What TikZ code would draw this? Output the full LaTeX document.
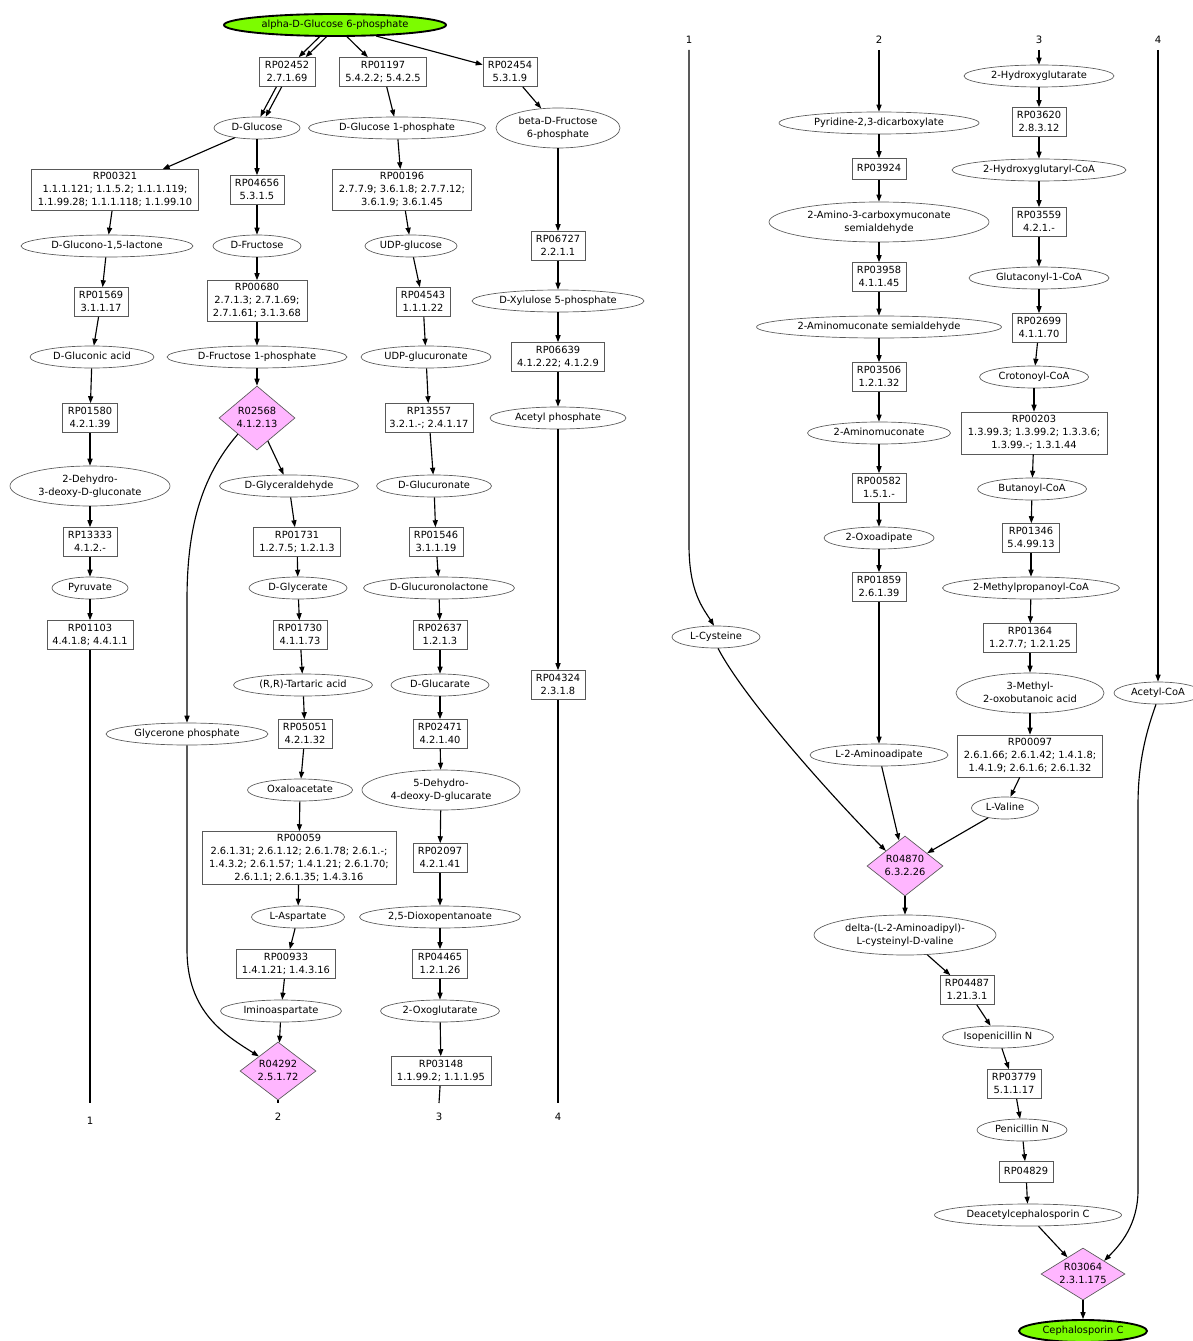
\documentclass[tikz,border=0pt]{standalone}
\usepackage{fontspec}
\setmainfont{DejaVu Sans}
\usetikzlibrary{shapes.geometric,arrows.meta}
\definecolor{pinkfill}{RGB}{255,182,255}
\definecolor{termgreen}{RGB}{124,252,0}
\newcommand{\ctext}[1]{\makebox[0pt]{\begin{tabular}{@{}c@{}}#1\end{tabular}}}
\begin{document}
\begin{tikzpicture}[x=0.75pt,y=-0.75pt,
  every node/.style={font=\fontsize{7.4}{9.75}\selectfont, inner sep=0pt},
  rbox/.style={draw=black!65, line width=0.5pt, rectangle},
  met/.style={draw=black!65, line width=0.5pt, ellipse},
  rxn/.style={draw=black!65, line width=0.5pt, diamond, fill=pinkfill},
  endpt/.style={draw=black, line width=1.4pt, ellipse, fill=termgreen},
  sz/.style 2 args={minimum width=#1*0.75pt, minimum height=#2*0.75pt},
  arr/.style={draw, line width=0.85pt, -{Triangle[length=5.2pt,width=3.8pt]}},
  plain/.style={draw, line width=0.85pt},
  lbl/.style={font=\fontsize{7.6}{9}\selectfont}]
\useasboundingbox (0,0) rectangle (1192,1341);

% ---------------- left panel ----------------
\node[endpt, sz={222}{22}] (g6p) at (335,25) {\ctext{alpha-D-Glucose 6-phosphate}};
\node[rbox, sz={56}{29}] (rp02452) at (287,72) {\ctext{RP02452\\2.7.1.69}};
\node[rbox, sz={87}{29}] (rp01197) at (383,72) {\ctext{RP01197\\5.4.2.2; 5.4.2.5}};
\node[rbox, sz={54}{29}] (rp02454) at (510,72) {\ctext{RP02454\\5.3.1.9}};
\node[met, sz={86}{22}] (dglc) at (257,128) {\ctext{D-Glucose}};
\node[met, sz={177}{22}] (dg1p) at (397,128) {\ctext{D-Glucose 1-phosphate}};
\node[met, sz={124}{40}] (bf6p) at (558,128) {\ctext{beta-D-Fructose\\6-phosphate}};
\node[rbox, sz={167}{41}] (rp00321) at (115,190) {\ctext{RP00321\\1.1.1.121; 1.1.5.2; 1.1.1.119;\\1.1.99.28; 1.1.1.118; 1.1.99.10}};
\node[rbox, sz={54}{29}] (rp04656) at (257,190) {\ctext{RP04656\\5.3.1.5}};
\node[rbox, sz={139}{41}] (rp00196) at (402,190) {\ctext{RP00196\\2.7.7.9; 3.6.1.8; 2.7.7.12;\\3.6.1.9; 3.6.1.45}};
\node[met, sz={172}{22}] (dglac) at (107,246) {\ctext{D-Glucono-1,5-lactone}};
\node[met, sz={88}{22}] (dfru) at (257,246) {\ctext{D-Fructose}};
\node[met, sz={92}{22}] (udpg) at (411,246) {\ctext{UDP-glucose}};
\node[rbox, sz={54}{29}] (rp06727) at (558,246) {\ctext{RP06727\\2.2.1.1}};
\node[rbox, sz={54}{29}] (rp01569) at (101,302) {\ctext{RP01569\\3.1.1.17}};
\node[rbox, sz={100}{41}] (rp00680) at (257,301) {\ctext{RP00680\\2.7.1.3; 2.7.1.69;\\2.7.1.61; 3.1.3.68}};
\node[rbox, sz={54}{29}] (rp04543) at (423,302) {\ctext{RP04543\\1.1.1.22}};
\node[met, sz={172}{22}] (dx5p) at (558,301) {\ctext{D-Xylulose 5-phosphate}};
\node[met, sz={124}{22}] (dgla) at (92,357) {\ctext{D-Gluconic acid}};
\node[met, sz={180}{22}] (df1p) at (257,357) {\ctext{D-Fructose 1-phosphate}};
\node[met, sz={130}{22}] (udpgu) at (426,357) {\ctext{UDP-glucuronate}};
\node[rbox, sz={93}{29}] (rp06639) at (558,357) {\ctext{RP06639\\4.1.2.22; 4.1.2.9}};
\node[rxn, sz={76}{64}] (r02568) at (257,418) {\ctext{R02568\\4.1.2.13}};
\node[rbox, sz={55}{29}] (rp01580) at (90,418) {\ctext{RP01580\\4.2.1.39}};
\node[rbox, sz={88}{29}] (rp13557) at (429,418) {\ctext{RP13557\\3.2.1.-; 2.4.1.17}};
\node[met, sz={136}{22}] (acp) at (558,418) {\ctext{Acetyl phosphate}};
\node[met, sz={160}{40}] (ddg) at (90,486) {\ctext{2-Dehydro-\\3-deoxy-D-gluconate}};
\node[met, sz={139}{22}] (dgad) at (289,486) {\ctext{D-Glyceraldehyde}};
\node[met, sz={115}{22}] (dgu) at (434,486) {\ctext{D-Glucuronate}};
\node[rbox, sz={54}{29}] (rp13333) at (90,542) {\ctext{RP13333\\4.1.2.-}};
\node[rbox, sz={87}{29}] (rp01731) at (297,542) {\ctext{RP01731\\1.2.7.5; 1.2.1.3}};
\node[rbox, sz={54}{29}] (rp01546) at (436,542) {\ctext{RP01546\\3.1.1.19}};
\node[met, sz={76}{22}] (pyr) at (90,588) {\ctext{Pyruvate}};
\node[met, sz={98}{22}] (dgly) at (298,588) {\ctext{D-Glycerate}};
\node[met, sz={151}{22}] (dgul) at (439,588) {\ctext{D-Glucuronolactone}};
\node[rbox, sz={86}{29}] (rp01103) at (90,635) {\ctext{RP01103\\4.4.1.8; 4.4.1.1}};
\node[rbox, sz={54}{29}] (rp01730) at (300,635) {\ctext{RP01730\\4.1.1.73}};
\node[rbox, sz={54}{29}] (rp02637) at (440,635) {\ctext{RP02637\\1.2.1.3}};
\node[met, sz={139}{22}] (tart) at (303,685) {\ctext{(R,R)-Tartaric acid}};
\node[met, sz={98}{22}] (dgar) at (440,685) {\ctext{D-Glucarate}};
\node[rbox, sz={54}{29}] (rp04324) at (558,685) {\ctext{RP04324\\2.3.1.8}};
\node[met, sz={162}{22}] (glyp) at (187,734) {\ctext{Glycerone phosphate}};
\node[rbox, sz={54}{29}] (rp05051) at (305,734) {\ctext{RP05051\\4.2.1.32}};
\node[rbox, sz={54}{29}] (rp02471) at (440,734) {\ctext{RP02471\\4.2.1.40}};
\node[met, sz={105}{22}] (oxa) at (300,790) {\ctext{Oxaloacetate}};
\node[met, sz={158}{40}] (ddgr) at (441,790) {\ctext{5-Dehydro-\\4-deoxy-D-glucarate}};
\node[rbox, sz={194}{53}] (rp00059) at (299,858) {\ctext{RP00059\\2.6.1.31; 2.6.1.12; 2.6.1.78; 2.6.1.-;\\1.4.3.2; 2.6.1.57; 1.4.1.21; 2.6.1.70;\\2.6.1.1; 2.6.1.35; 1.4.3.16}};
\node[rbox, sz={54}{29}] (rp02097) at (440,858) {\ctext{RP02097\\4.2.1.41}};
\node[met, sz={93}{22}] (lasp) at (298,917) {\ctext{L-Aspartate}};
\node[met, sz={161}{22}] (dop) at (440,917) {\ctext{2,5-Dioxopentanoate}};
\node[rbox, sz={99}{29}] (rp00933) at (286,964) {\ctext{RP00933\\1.4.1.21; 1.4.3.16}};
\node[rbox, sz={55}{29}] (rp04465) at (440,964) {\ctext{RP04465\\1.2.1.26}};
\node[met, sz={121}{22}] (imi) at (281,1011) {\ctext{Iminoaspartate}};
\node[met, sz={119}{22}] (oxg) at (440,1011) {\ctext{2-Oxoglutarate}};
\node[rxn, sz={76}{58}] (r04292) at (278,1071) {\ctext{R04292\\2.5.1.72}};
\node[rbox, sz={100}{29}] (rp03148) at (441,1071) {\ctext{RP03148\\1.1.99.2; 1.1.1.95}};

% continuation markers at the foot of the left panel
\node[lbl] (bl1) at (90,1121) {1};
\node[lbl] (bl2) at (278,1117) {2};
\node[lbl] (bl3) at (439,1117) {3};
\node[lbl] (bl4) at (558,1117) {4};
\coordinate (b1) at (90,1103);
\coordinate (b2) at (278,1103);
\coordinate (b3) at (439,1103);
\coordinate (b4) at (558,1103);

% left panel connectors
\draw[arr, transform canvas={xshift=-2.6pt}] (g6p) -- (rp02452);
\draw[arr, transform canvas={xshift=2.6pt}] (g6p) -- (rp02452);
\draw[arr, transform canvas={xshift=-2pt}] (rp02452) -- (dglc);
\draw[arr, transform canvas={xshift=2pt}] (rp02452) -- (dglc);
\draw[arr] (g6p) -- (rp01197);
\draw[arr] (g6p) -- (rp02454);
\draw[arr] (rp01197) -- (dg1p);
\draw[arr] (rp02454) -- (bf6p);
\draw[arr] (dglc) -- (rp00321);
\draw[arr] (dglc) -- (rp04656);
\draw[arr] (dg1p) -- (rp00196);
\draw[arr] (bf6p) -- (rp06727);
\draw[arr] (rp00321) -- (dglac);
\draw[arr] (rp04656) -- (dfru);
\draw[arr] (rp00196) -- (udpg);
\draw[arr] (rp06727) -- (dx5p);
\draw[arr] (dglac) -- (rp01569);
\draw[arr] (dfru) -- (rp00680);
\draw[arr] (udpg) -- (rp04543);
\draw[arr] (dx5p) -- (rp06639);
\draw[arr] (rp01569) -- (dgla);
\draw[arr] (rp00680) -- (df1p);
\draw[arr] (rp04543) -- (udpgu);
\draw[arr] (rp06639) -- (acp);
\draw[arr] (dgla) -- (rp01580);
\draw[arr] (df1p) -- (r02568);
\draw[arr] (udpgu) -- (rp13557);
\draw[arr] (acp) -- (rp04324);
\draw[arr] (rp01580) -- (ddg);
\draw[arr] (r02568) -- (dgad);
\draw[arr] (r02568.south west) .. controls (200,478) and (187,530) .. (187,600) -- (glyp.north);
\draw[arr] (rp13557) -- (dgu);
\draw[arr] (ddg) -- (rp13333);
\draw[arr] (dgad) -- (rp01731);
\draw[arr] (dgu) -- (rp01546);
\draw[arr] (rp13333) -- (pyr);
\draw[arr] (rp01731) -- (dgly);
\draw[arr] (rp01546) -- (dgul);
\draw[arr] (pyr) -- (rp01103);
\draw[arr] (dgly) -- (rp01730);
\draw[arr] (dgul) -- (rp02637);
\draw[arr] (rp01730) -- (tart);
\draw[arr] (rp02637) -- (dgar);
\draw[arr] (tart) -- (rp05051);
\draw[arr] (dgar) -- (rp02471);
\draw[arr] (rp05051) -- (oxa);
\draw[arr] (rp02471) -- (ddgr);
\draw[arr] (oxa) -- (rp00059);
\draw[arr] (ddgr) -- (rp02097);
\draw[arr] (rp00059) -- (lasp);
\draw[arr] (rp02097) -- (dop);
\draw[arr] (lasp) -- (rp00933);
\draw[arr] (dop) -- (rp04465);
\draw[arr] (rp00933) -- (imi);
\draw[arr] (rp04465) -- (oxg);
\draw[arr] (imi) -- (r04292);
\draw[arr] (oxg) -- (rp03148);
\draw[arr] (glyp.south) -- (187,950) .. controls (187,1012) and (225,1035) .. (r04292.north west);
\draw[plain] (rp01103) -- (b1);
\draw[plain] (r04292) -- (b2);
\draw[plain] (rp03148) -- (b3);
\draw[plain] (rp04324) -- (b4);

% ---------------- right panel ----------------
\node[lbl] (tl1) at (689,40) {1};
\node[lbl] (tl2) at (879,40) {2};
\node[lbl] (tl3) at (1039,40) {3};
\node[lbl] (tl4) at (1158,40) {4};
\coordinate (t1) at (689,50);
\coordinate (t2) at (879,50);
\coordinate (t3) at (1039,50);
\coordinate (t4) at (1158,50);

\node[met, sz={200}{22}] (pyd) at (879,123) {\ctext{Pyridine-2,3-dicarboxylate}};
\node[rbox, sz={54}{21}] (rp03924) at (879,169) {\ctext{RP03924}};
\node[met, sz={220}{40}] (acms) at (879,222) {\ctext{2-Amino-3-carboxymuconate\\semialdehyde}};
\node[rbox, sz={54}{29}] (rp03958) at (879,277) {\ctext{RP03958\\4.1.1.45}};
\node[met, sz={245}{22}] (ams) at (879,327) {\ctext{2-Aminomuconate semialdehyde}};
\node[rbox, sz={54}{29}] (rp03506) at (879,377) {\ctext{RP03506\\1.2.1.32}};
\node[met, sz={143}{22}] (amu) at (879,433) {\ctext{2-Aminomuconate}};
\node[rbox, sz={54}{29}] (rp00582) at (879,488) {\ctext{RP00582\\1.5.1.-}};
\node[met, sz={110}{22}] (oxad) at (879,538) {\ctext{2-Oxoadipate}};
\node[rbox, sz={54}{29}] (rp01859) at (879,587) {\ctext{RP01859\\2.6.1.39}};
\node[met, sz={138}{22}] (laa) at (879,755) {\ctext{L-2-Aminoadipate}};
\node[met, sz={88}{22}] (lcys) at (716,637) {\ctext{L-Cysteine}};
\node[rxn, sz={76}{60}] (r04870) at (905,866) {\ctext{R04870\\6.3.2.26}};
\node[met, sz={182}{40}] (acv) at (905,935) {\ctext{delta-(L-2-Aminoadipyl)-\\L-cysteinyl-D-valine}};
\node[rbox, sz={54}{29}] (rp04487) at (967,990) {\ctext{RP04487\\1.21.3.1}};
\node[met, sz={111}{22}] (ipn) at (998,1037) {\ctext{Isopenicillin N}};
\node[rbox, sz={54}{29}] (rp03779) at (1014,1084) {\ctext{RP03779\\5.1.1.17}};
\node[met, sz={90}{22}] (pen) at (1022,1130) {\ctext{Penicillin N}};
\node[rbox, sz={54}{21}] (rp04829) at (1026,1172) {\ctext{RP04829}};
\node[met, sz={187}{22}] (dac) at (1028,1215) {\ctext{Deacetylcephalosporin C}};
\node[rxn, sz={84}{52}] (r03064) at (1083,1274) {\ctext{R03064\\2.3.1.175}};
\node[endpt, sz={128}{22}] (cephc) at (1083,1331) {\ctext{Cephalosporin C}};

\node[met, sz={150}{22}] (hgl) at (1039,76) {\ctext{2-Hydroxyglutarate}};
\node[rbox, sz={54}{29}] (rp03620) at (1039,122) {\ctext{RP03620\\2.8.3.12}};
\node[met, sz={174}{22}] (hgc) at (1039,170) {\ctext{2-Hydroxyglutaryl-CoA}};
\node[rbox, sz={54}{29}] (rp03559) at (1039,222) {\ctext{RP03559\\4.2.1.-}};
\node[met, sz={140}{22}] (glc1) at (1039,278) {\ctext{Glutaconyl-1-CoA}};
\node[rbox, sz={54}{29}] (rp02699) at (1039,328) {\ctext{RP02699\\4.1.1.70}};
\node[met, sz={109}{22}] (crot) at (1034,377) {\ctext{Crotonoyl-CoA}};
\node[rbox, sz={146}{42}] (rp00203) at (1034,433) {\ctext{RP00203\\1.3.99.3; 1.3.99.2; 1.3.3.6;\\1.3.99.-; 1.3.1.44}};
\node[met, sz={109}{22}] (buta) at (1032,489) {\ctext{Butanoyl-CoA}};
\node[rbox, sz={57}{29}] (rp01346) at (1031,538) {\ctext{RP01346\\5.4.99.13}};
\node[met, sz={177}{22}] (mpc) at (1031,588) {\ctext{2-Methylpropanoyl-CoA}};
\node[rbox, sz={93}{29}] (rp01364) at (1030,638) {\ctext{RP01364\\1.2.7.7; 1.2.1.25}};
\node[met, sz={148}{40}] (mob) at (1030,693) {\ctext{3-Methyl-\\2-oxobutanoic acid}};
\node[rbox, sz={145}{42}] (rp00097) at (1030,756) {\ctext{RP00097\\2.6.1.66; 2.6.1.42; 1.4.1.8;\\1.4.1.9; 2.6.1.6; 2.6.1.32}};
\node[met, sz={67}{22}] (lval) at (1005,808) {\ctext{L-Valine}};
\node[met, sz={88}{22}] (acoa) at (1158,693) {\ctext{Acetyl-CoA}};

% right panel connectors
\draw[arr] (t1) -- (689,545) .. controls (689,592) and (703,608) .. (lcys.100);
\draw[arr] (t2) -- (pyd);
\draw[arr] (t3) -- (hgl);
\draw[arr] (t4) -- (acoa);
\draw[arr] (pyd) -- (rp03924);
\draw[arr] (rp03924) -- (acms);
\draw[arr] (acms) -- (rp03958);
\draw[arr] (rp03958) -- (ams);
\draw[arr] (ams) -- (rp03506);
\draw[arr] (rp03506) -- (amu);
\draw[arr] (amu) -- (rp00582);
\draw[arr] (rp00582) -- (oxad);
\draw[arr] (oxad) -- (rp01859);
\draw[arr] (rp01859) -- (laa);
\draw[arr] (laa) -- (r04870);
\draw[arr] (lcys.-80) .. controls (745,700) and (835,800) .. (r04870.north west);
\draw[arr] (hgl) -- (rp03620);
\draw[arr] (rp03620) -- (hgc);
\draw[arr] (hgc) -- (rp03559);
\draw[arr] (rp03559) -- (glc1);
\draw[arr] (glc1) -- (rp02699);
\draw[arr] (rp02699) -- (crot);
\draw[arr] (crot) -- (rp00203);
\draw[arr] (rp00203) -- (buta);
\draw[arr] (buta) -- (rp01346);
\draw[arr] (rp01346) -- (mpc);
\draw[arr] (mpc) -- (rp01364);
\draw[arr] (rp01364) -- (mob);
\draw[arr] (mob) -- (rp00097);
\draw[arr] (rp00097) -- (lval);
\draw[arr] (lval) -- (r04870);
\draw[arr] (r04870) -- (acv);
\draw[arr] (acv) -- (rp04487);
\draw[arr] (rp04487) -- (ipn);
\draw[arr] (ipn) -- (rp03779);
\draw[arr] (rp03779) -- (pen);
\draw[arr] (pen) -- (rp04829);
\draw[arr] (rp04829) -- (dac);
\draw[arr] (dac) -- (r03064);
\draw[arr] (acoa.-100) .. controls (1145,735) and (1138,765) .. (1138,805) -- (1138,1190) .. controls (1138,1225) and (1120,1245) .. (r03064.north east);
\draw[arr] (r03064) -- (cephc);
\end{tikzpicture}
\end{document}
